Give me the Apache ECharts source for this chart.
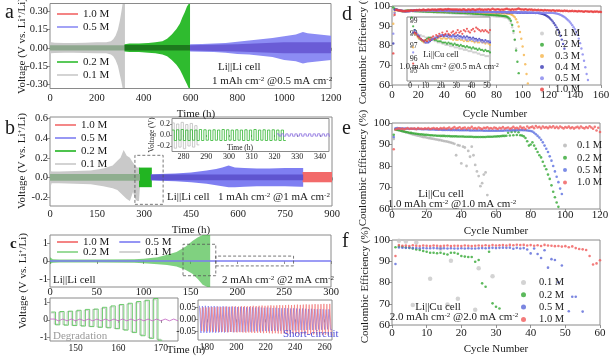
<!DOCTYPE html>
<html><head><meta charset="utf-8">
<script src="https://cdn.jsdelivr.net/npm/echarts@6/dist/echarts.min.js"></script>
<style>html,body{margin:0;padding:0;background:#fff}#c{width:614px;height:357px}</style>
</head><body><div id="c"></div>
<script>
const FONT = 'Liberation Serif';
const COL = {red:'#f26666', blue:'#7b7bf2', green:'#26b326', grey:'#c6c6c6'};

// ---------- panel a : voltage envelopes (h, V) ----------
const a_t_01 = [0,5,20,60,100,150,200,240,260,270,280,290,298,305,310,316,320];
const a_hi_01 = [0.06,0.045,0.042,0.04,0.04,0.042,0.045,0.045,0.055,0.07,0.1,0.15,0.22,0.3,0.36,0.36,0.36];
const a_lo_01 = [-0.06,-0.045,-0.042,-0.04,-0.04,-0.042,-0.045,-0.045,-0.055,-0.07,-0.1,-0.15,-0.22,-0.28,-0.33,-0.33,-0.33];
const a_t_mix = [0,320];
const a_hi_mix = [0.022,0.022];
const a_lo_mix = [-0.022,-0.022];
const a_t_02 = [318,340,380,420,450,480,500,520,540,555,565,575,585,592,598];
const a_hi_02 = [0.03,0.035,0.035,0.04,0.045,0.055,0.074,0.11,0.156,0.2,0.25,0.29,0.34,0.36,0.36];
const a_lo_02 = [-0.03,-0.035,-0.035,-0.04,-0.045,-0.055,-0.07,-0.1,-0.14,-0.18,-0.22,-0.26,-0.3,-0.33,-0.33];
const a_t_02in = [318,598];
const a_hi_02in = [0.024,0.024];
const a_lo_02in = [-0.022,-0.022];
const a_t_05 = [598,650,700,750,800,850,900,950,1000,1050,1080,1100,1150,1200];
const a_hi_05 = [0.03,0.032,0.035,0.04,0.05,0.06,0.07,0.08,0.095,0.11,0.13,0.12,0.11,0.1];
const a_lo_05 = [-0.03,-0.032,-0.035,-0.04,-0.05,-0.055,-0.065,-0.075,-0.1,-0.11,-0.13,-0.12,-0.11,-0.1];
const a_t_05in = [598,800,1000,1200];
const a_hi_05in = [0.022,0.03,0.045,0.045];
const a_lo_05in = [-0.022,-0.03,-0.045,-0.045];

// ---------- panel b ----------
const b_t_01 = [0,2,5,30,80,130,170,200,215,225,235,245,255,265,272,278,284,287];
const b_hi_01 = [0.1,0.07,0.06,0.06,0.065,0.07,0.09,0.12,0.17,0.2,0.28,0.22,0.2,0.15,0.12,0.1,0.1,0.1];
const b_lo_01 = [-0.27,-0.1,-0.06,-0.06,-0.065,-0.07,-0.09,-0.11,-0.13,-0.16,-0.19,-0.22,-0.24,-0.15,-0.22,-0.24,-0.24,-0.1];
const b_t_mix = [0,287];
const b_hi_mix = [0.035,0.035];
const b_lo_mix = [-0.035,-0.035];
const b_t_02 = [284,325];
const b_hi_02 = [0.1,0.1];
const b_lo_02 = [-0.1,-0.1];
const b_t_05 = [322,350,400,450,500,530,550,570,590,620,660,700,750,800,808];
const b_hi_05 = [0.03,0.035,0.04,0.05,0.07,0.085,0.1,0.12,0.1,0.095,0.09,0.09,0.095,0.095,0.095];
const b_lo_05 = [-0.03,-0.035,-0.04,-0.05,-0.065,-0.08,-0.09,-0.1,-0.1,-0.095,-0.09,-0.09,-0.09,-0.095,-0.095];
const b_t_05in = [322,808];
const b_hi_05in = [0.03,0.03];
const b_lo_05in = [-0.03,-0.03];
const b_t_10 = [806,900];
const b_hi_10 = [0.055,0.055];
const b_lo_10 = [-0.05,-0.05];
const b_box_t = [271,361];
const b_box_v = [-0.275,0.225];
// inset b : per-cycle amplitudes (2 h per cycle)
const bi_t0_grey = 275, bi_t0_green = 275, bi_t0_pur = 321;
const bi_grey_up = [0.22,0.2,0.23,0.19,0.21,0.17];
const bi_grey_dn = [-0.24,-0.22,-0.25,-0.2,-0.22,-0.18];
const bi_green_up = [0.09,0.095,0.1,0.09,0.095,0.09,0.1,0.095,0.09,0.095,0.09,0.1,0.095,0.09,0.095,0.09,0.095,0.09,0.1,0.09,0.095,0.09,0.095,0.09,0.09];
const bi_green_dn = [-0.1,-0.095,-0.1,-0.1,-0.095,-0.1,-0.1,-0.095,-0.1,-0.095,-0.1,-0.1,-0.095,-0.1,-0.095,-0.1,-0.1,-0.095,-0.1,-0.095,-0.1,-0.1,-0.095,-0.1,-0.1];
const bi_pur_up = [0.02,0.022,0.02,0.021,0.02,0.022,0.02,0.021,0.02,0.022,0.02,0.021];
const bi_pur_dn = [-0.02,-0.021,-0.02,-0.022,-0.02,-0.021,-0.02,-0.022,-0.02,-0.021,-0.02,-0.022];

// ---------- panel c ----------
const c_t_02 = [0,3,10,50,90,100,115,125,135,145,152,158,163,168,171];
const c_hi_02 = [0.2,0.1,0.08,0.08,0.1,0.12,0.2,0.35,0.5,0.8,1.1,1.3,1.43,1.43,1.43];
const c_lo_02 = [-0.15,-0.1,-0.08,-0.08,-0.1,-0.12,-0.18,-0.22,-0.3,-0.5,-0.7,-1.0,-1.3,-1.43,-1.43];
const c_t_05 = [0,300];
const c_hi_05 = [0.04,0.04];
const c_lo_05 = [-0.04,-0.04];
const c_box1_t = [142,177], c_box1_v = [-0.81,0.92];
const c_box2_t = [177,260], c_box2_v = [-0.27,0.27];
// left inset (degradation), 2 h cycles from 144 h
const cl_t0 = 144;
const cl_green_up = [0.45,0.48,0.5,0.55,0.6,0.62,0.72,0.8,0.88,0.95,1.05,1.12,1.22];
const cl_green_dn = [-0.28,-0.3,-0.32,-0.35,-0.38,-0.42,-0.45,-0.5,-0.58,-0.72,-0.9,-1.05,-1.15];
const cl_grey_up = [0.4,0.44,0.47,0.5,0.55,0.6,0.66,0.74,0.84,0.9,0.98,1.08,1.15];
const cl_grey_dn = [-0.24,-0.27,-0.3,-0.32,-0.36,-0.4,-0.42,-0.48,-0.55,-0.68,-0.85,-1.0,-1.1];
const cl_mag_amp = [0.05,0.05,0.05,0.05,0.05,0.05,0.05,0.05,0.05,0.05,0.05,0.05,0.05,0.05,0.05];
// right inset (short circuit), 2 h cycles from 175 h
const cr_t0_red = 175.5, cr_t0_blue = 175;
const cr_red_amp = [0.048,0.05,0.049,0.05,0.051,0.05,0.052,0.051,0.052,0.053,0.052,0.053,0.054,0.053,0.054,0.055,0.054,0.055,0.056,0.055,0.056,0.057,0.056,0.057,0.058,0.057,0.058,0.059,0.058,0.059,0.06,0.059,0.06,0.061,0.06,0.061,0.062,0.061,0.062,0.063,0.062,0.063,0.064,0.063,0.064];
const cr_blue_amp = [0.056,0.055,0.056,0.055,0.054,0.055,0.054,0.053,0.054,0.053,0.052,0.053,0.052,0.051,0.052,0.051,0.05,0.051,0.05,0.049,0.05,0.049,0.048,0.049,0.048,0.047,0.048,0.047,0.046,0.047,0.046,0.045,0.046,0.045,0.044,0.045,0.044,0.043,0.044,0.043,0.042,0.043,0.042,0.041,0.042];

// ---------- panel d : CE (%) per cycle, starting at cycle 1 ----------
const d_01 = [95.0,98.2,98.3,98.1,98.0,97.9,97.9,97.8,97.8,97.7, 97.7,97.6,97.6,97.5,97.5,97.4,97.4,97.3,97.3,97.3, 97.2,97.2,97.1,97.1,97.1,97.0,97.0,97.0,96.9,96.9, 96.9,96.8,96.8,96.8,96.7,96.7,96.7,96.6,96.6,96.6, 96.5,96.5,96.5,96.4,96.4,96.3,96.3,96.3,96.2,96.2, 96.2,96.1,96.1,96.0,96.0,95.9,95.9,95.8,95.8,95.7, 95.7,95.6,95.6,95.5,95.5,95.4,95.4,95.3,95.3,95.2, 95.2,95.1,95.1,95.0,95.0,94.9,94.9,94.8,94.8,94.7, 94.7,94.6,94.6,94.5,94.4,94.3,94.2,94.0, 93.5,92.7,91.3,89.2,86.3,82.8,78.5];
const d_02 = [99.3,98.6,98.3,98.0,97.8,97.6,97.5,97.4,97.4,97.5, 97.6,97.7,97.7,97.6,97.6,97.5,97.5,97.4,97.4,97.4, 97.3,97.3,97.3,97.2,97.3,97.2,97.2,97.1,97.2,97.1, 97.1,97.0,97.1,97.0,97.0,96.9,97.0,96.9,96.9,96.8, 96.9,96.8,96.8,96.7,96.8,96.7,96.7,96.6,96.7,96.6, 96.6,96.5,96.6,96.5,96.5,96.4,96.4,96.3,96.4,96.3, 96.3,96.2,96.2,96.1,96.1,96.0,96.0,95.9,95.9,95.8, 95.8,95.7,95.7,95.6,95.6,95.5,95.5,95.4,95.4,95.3, 95.3,95.2,95.2,95.1,95.0,94.9,94.8,94.6,94.2,93.6, 92.5,90.4,87.4,83.0,77.5,71.8,66.0];
const d_03 = [91.0,96.9,98.0,97.9,97.7,97.6,97.5,97.4,97.3,97.3, 97.4,97.5,97.5,97.6,97.6,97.6,97.7,97.6,97.7,97.6, 97.6,97.7,97.6,97.6,97.7,97.6,97.6,97.5,97.6,97.5, 97.5,97.6,97.5,97.5,97.4,97.5,97.4,97.4,97.5,97.4, 97.4,97.3,97.4,97.3,97.3,97.4,97.3,97.3,97.2,97.3, 97.2,97.1,97.2,97.1,97.0,97.1,97.0,97.0,96.9,97.0, 96.9,96.9,96.8,96.9,96.8,96.8,96.7,96.8,96.7,96.7, 96.6,96.7,96.6,96.6,96.5,96.5,96.6,96.5,96.4,96.5, 96.4,96.4,96.3,96.4,96.3,96.2,96.3,96.2,96.1,96.0, 95.8,95.5,95.0,94.3,93.3,91.8,89.6,86.8,83.4,79.5, 75.2,70.5,65.6,60.8];
const d_04 = [81.0,98.1,98.3,98.1,97.9,97.8,97.6,97.5,97.4,97.3, 97.3,97.3,97.4,97.5,97.6,97.6,97.7,97.7,97.8,97.8, 97.9,97.8,97.9,97.8,97.9,97.8,97.8,97.9,97.8,97.8, 97.9,97.8,97.8,97.7,97.8,97.7,97.8,97.7,97.7,97.6, 97.7,97.6,97.6,97.5,97.6,97.5,97.5,97.4,97.5,97.4, 97.4,97.3,97.4,97.3,97.3,97.2,97.3,97.2,97.2,97.1, 97.2,97.1,97.1,97.2,97.1,97.0,97.1,97.0,97.0,97.1, 97.0,96.9,97.0,96.9,97.0,96.9,96.9,97.0,96.9,96.8, 96.9,96.8,96.9,96.8,96.8,96.9,96.8,96.7,96.8,96.7, 96.8,96.7,96.7,96.8,96.7,96.6,96.7,96.6,96.7,96.6, 96.6,96.7,96.6,96.5,96.6,96.5,96.6,96.5,96.5,96.4, 96.5,96.4,96.3,96.2,96.0,95.8,95.5,95.2,94.8,94.3, 93.7,93.0,92.2,91.3,90.3,89.2,88.0,86.6,84.9,83.0, 80.8,78.4];
const d_05 = [86.0,96.5,98.2,98.0,97.9,97.7,97.6,97.5,97.4,97.3, 97.3,97.4,97.5,97.6,97.6,97.7,97.7,97.8,97.8,97.9, 97.8,97.9,97.8,97.9,97.7,97.8,97.7,97.8,97.7,97.6, 97.7,97.6,97.7,97.6,97.7,97.6,97.5,97.6,97.5,97.6, 97.5,97.4,97.5,97.4,97.5,97.4,97.3,97.4,97.3,97.4, 97.3,97.4,97.3,97.3,97.2,97.3,97.2,97.3,97.2,97.2, 97.1,97.2,97.1,97.2,97.1,97.1,97.0,97.1,97.0,97.1, 97.0,97.0,97.1,97.0,96.9,97.0,96.9,97.0,96.9,96.9, 96.9,97.0,96.9,96.9,96.8,96.9,96.8,96.9,96.8,96.8, 96.8,96.9,96.8,96.8,96.7,96.8,96.7,96.8,96.7,96.7, 96.7,96.8,96.7,96.7,96.6,96.7,96.6,96.7,96.6,96.6, 96.6,96.7,96.6,96.6,96.5,96.6,96.5,96.6,96.5,96.5, 96.6,96.5,96.5,96.4,96.3,96.2,96.0,95.8,95.5,95.2, 94.8,94.4,93.9,93.3,92.7,92.0,91.2,90.3,89.3,88.2, 86.9,85.4,83.5,81.2,78.5,75.5,72.3,69.0,65.6,62.5];
const d_10 = [76.0,95.6,98.1,98.0,97.8,97.7,97.6,97.5,97.4,97.5, 97.4,97.6,97.5,97.7,97.8,97.6,97.9,97.8,98.0,97.8, 98.1,97.9,98.0,98.2,98.0,97.9,98.1,98.2,98.0,98.1, 98.3,98.1,98.2,98.0,98.3,98.2,98.4,98.2,98.1,98.3, 98.4,98.2,98.5,98.4,98.3,98.2,98.3,98.2,98.3,98.2, 98.1,98.3,98.0,98.2,98.4,98.1,97.9,98.2,98.3,98.0, 98.2,98.4,98.1,98.0,98.3,98.2,98.5,98.1,98.2,98.0, 98.3,98.1,98.2,98.4,98.0,98.2,98.6,98.3,98.1,98.2, 98.4,98.2,98.0,98.3,98.1,98.2,98.5,98.6,98.3,98.2, 98.0,98.4,98.1,98.3,98.2,98.5,98.7,98.4,98.2,98.3, 98.1,98.4,98.2,98.0,98.3,98.1,98.2,97.9,98.1,98.0, 97.9,98.1,97.8,98.0,97.9,97.7,98.0,97.8,97.9,97.7, 97.8,97.6,97.9,97.7,97.5,97.8,97.6,97.7,97.5,97.6, 97.4,97.7,97.5,97.6,97.3,97.5,97.4,97.6,97.3,97.5, 97.4,97.2,97.5,97.3,97.4,97.2,97.1,97.4,97.3,97.2, 97.1,97.3,97.2,97.0,97.2,97.1,97.3,97.0,97.1,97.0];

// ---------- panel e ----------
const e_01 = [92.6,97.0,96.9,96.7,96.5,96.2,96.0,95.7,95.5,95.2, 95.0,94.7,94.5,94.3,94.1,93.9,93.7,93.5,93.4,93.2, 93.0,92.9,92.7,92.6,92.4,92.3,92.1,92.0,91.8,91.6, 91.5,91.3,91.1,90.9,90.6,90.3,85.0,89.7,89.5,81.2, 89.0,88.6,80.0,87.0,84.3,89.0,85.0,80.5,77.5,75.3, 70.6,72.0,76.0,77.0,66.5];
const e_02 = [94.5,97.0,96.8,96.6,96.4,96.2,96.0,95.8,95.7,95.5, 95.4,95.2,95.1,95.0,94.9,94.8,94.7,94.6,94.5,94.5, 94.4,94.3,94.3,94.2,94.2,94.1,94.1,94.0,94.0,94.0, 93.9,93.9,93.9,93.8,93.8,93.8,93.8,93.7,93.7,93.7, 93.7,93.6,93.6,93.6,93.6,93.6,93.5,93.5,93.5,93.5, 93.5,93.5,93.5,93.5,93.6,93.6,93.6,93.6,93.7,93.7, 93.8,93.8,93.9,94.0,94.0,94.1,95.5,94.2,95.8,94.3, 96.0,94.4,95.7,94.3,94.2,93.8,93.0, 91.5,89.5,90.0,91.0,89.5,88.0,86.5,85.0,84.0,82.0,80.0,78.5,76.0,74.0,71.0,68.0,65.5,63.0,61.0];
const e_05 = [93.5,97.5,97.6,97.5,97.5,97.4,97.4,97.4,97.3,97.3, 97.3,97.3,97.2,97.2,97.2,97.2,97.1,97.1,97.1,97.1, 97.0,97.0,97.0,97.0,96.9,96.9,96.9,96.9,96.8,96.8, 96.8,96.8,96.8,96.7,96.7,96.7,96.7,96.7,96.6,96.6, 96.6,96.6,96.6,96.6,96.5,96.5,96.5,96.5,96.5,96.5, 96.5,96.5,96.4,96.4,96.4,96.4,96.4,96.4,96.4,96.4, 96.4,96.4,96.4,96.4,96.5,96.5,96.5,96.5,96.6,96.6, 96.6,96.6,96.7,96.7,96.7,96.6,96.6,96.5,96.4, 96.3,96.0,95.5,94.8,94.0,93.2,92.2,91.0,89.5,88.0,86.5,84.5,82.5,80.0,77.5,75.0,72.5,69.5,67.0];
const e_10 = [87.8,97.0,97.3,97.5,97.2,97.4,97.1,97.3,97.6,97.2, 97.4,97.3,97.5,97.1,97.6,97.3,97.4,97.2,97.5,97.3, 97.6,97.2,97.4,97.7,97.3,97.5,97.1,97.6,97.4,97.8, 97.3,97.5,97.9,97.2,97.6,98.1,97.4,97.7,98.0,97.3, 97.6,97.9,97.2,97.8,97.5,98.2,97.4,97.7,97.3,97.9, 97.5,97.2,97.8,97.6,98.0,97.4,97.7,97.3,97.9,97.6, 97.2,97.8,97.5,98.1,97.4,97.7,97.9,97.3,97.6,98.2, 97.5,97.8,97.4,98.3,97.6,97.9,97.2,98.4,97.7,98.0, 98.3,97.6,98.6,97.9,98.2,97.5,98.4,97.8,98.1,97.6, 98.3,97.9,98.5,97.7,98.2,97.6,98.4,97.9,97.5,98.1, 97.8,98.3,97.6,98.0,97.4,97.9,98.2,97.6,98.4,97.8, 97.5,98.1,97.7,98.5,97.9,97.3,98.2,96.5,97.8,95.8];

// ---------- panel f ----------
const f_01_c = [2,4,6,7,11,14,16,17,19,24,25,29];
const f_01_v = [99.6,99.3,69.4,98.8,81.8,96.0,69.6,90.2,72.3,67.2,86.7,83.0];
const f_02 = [96.6,97.0,96.8,96.5,96.3,96.0,95.5,95.3,94.8,94.5, 94.0,94.0,93.8,94.0,93.5,93.2,94.0,94.0,93.5,92.5, 92.2,92.0,92.0,89.8,90.6,79.6,78.0,94.5,70.2,68.6,67.8];
const f_05 = [88.7,96.5,96.4,96.3,96.3,96.2,96.2,96.1,96.2,96.1, 96.1,96.2,96.1,96.0,96.1,96.0,96.1,96.0,96.0,96.1, 96.0,96.1,96.0,96.0,96.1,96.2,96.1,96.2,96.3,96.2, 96.3,96.4,96.3,96.4,95.9,96.3,96.0,96.2,95.5,93.7, 96.0,93.4,91.5,95.2,87.0,91.0,90.6,80.1,88.0,null, 66.5,73.3,73.3,null,66.3];
const f_10 = [92.5,97.6,97.3,97.4,97.2,97.5,97.3,97.2,97.4,97.3, 97.2,97.4,97.3,97.2,97.3,97.4,97.2,97.3,97.3,97.2, 97.4,97.3,97.2,97.3,97.4,97.3,97.5,97.3,97.6,97.4, 97.5,97.6,97.4,97.7,97.5,97.8,97.6,97.7,97.4,97.6, 97.3,97.5,97.2,97.7,97.4,97.3,97.1,97.2,96.9,97.1, 96.6,97.0,96.2,95.8,95.6,95.3,92.5,88.5,89.0,90.5];

// ---------- helpers ----------
const seq = (vals) => vals.map((v,i) => v == null ? null : [i+1, v]).filter(Boolean);
const pairs = (xs, ys) => xs.map((x,i) => [x, ys[i]]);
function sq(t0, period, up, dn) {
  const pts = [];
  up.forEach((u,i) => { const t = t0 + i*period; pts.push([t, u]); pts.push([t + period/2, dn[i]]); });
  pts.push([t0 + up.length*period, dn[dn.length-1]]);
  return pts;
}
function band(name, gi, t, hi, lo, color, z) {
  const rows = t.map((x,i) => [x, lo[i], hi[i]]);
  return {type:'custom', name, xAxisIndex:gi, yAxisIndex:gi, z: z||2, silent:true,
    data: rows, encode:{x:0, y:[1,2]}, itemStyle:{color},
    renderItem: function(params, api) {
      if (params.dataIndex !== 0) return null;
      const top = rows.map(r => api.coord([r[0], r[2]]));
      const bot = rows.map(r => api.coord([r[0], r[1]])).reverse();
      return {type:'polygon', shape:{points: top.concat(bot)}, style:{fill: color}};
    }};
}
function emptyLine(name, gi, color) {
  return {type:'line', name, xAxisIndex:gi, yAxisIndex:gi, data:[], itemStyle:{color}, lineStyle:{color}};
}
function stepLine(name, gi, pts, color, width, z) {
  return {type:'line', name, xAxisIndex:gi, yAxisIndex:gi, data:pts, step:'end', symbol:'none', showSymbol:false,
    lineStyle:{color, width: width||0.8}, itemStyle:{color}, z: z||2, silent:true, clip:true};
}
function box(gi, t, v) {
  const pts = [[t[0],v[0]],[t[1],v[0]],[t[1],v[1]],[t[0],v[1]],[t[0],v[0]]];
  return {type:'line', xAxisIndex:gi, yAxisIndex:gi, data:pts, symbol:'none', silent:true, z:4,
    lineStyle:{color:'#555', width:0.8, type:[3,2]}};
}
function sc(name, gi, data, color, size, z) {
  return {type:'scatter', name, xAxisIndex:gi, yAxisIndex:gi, data, symbolSize:size||2.4, symbol:'circle',
    itemStyle:{color}, clip:true, z: z||2, silent:true};
}
function xAx(gi, min, max, vals, o) {
  o = o || {};
  const lab = {customValues:vals, margin:(o.margin!=null?o.margin:4), fontFamily:FONT, fontSize:o.fs||10.5, color:'#1a1a1a',
      formatter:o.fmt||(v=>String(v)), hideOverlap:false};
  if (o.align) lab.align = o.align;
  return {type:'value', gridIndex:gi, min, max, z:o.z||0,
    axisLine:{show:false}, splitLine:{show:false},
    axisTick:{show:true, length:o.tick||3, inside:!!o.tin, customValues:vals, lineStyle:{color:'#777', width:0.8}},
    axisLabel:lab};
}
const yAx = xAx;
const f2 = v => v.toFixed(2), f1 = v => v.toFixed(1);

const grids = [
  {left:50, top:3.5, width:281, height:85},
  {left:50, top:117, width:282, height:89},
  {left:172, top:118.5, width:157, height:33, backgroundColor:'#fff', z:5},
  {left:50, top:235, width:281, height:52},
  {left:50, top:298, width:128, height:43},
  {left:198, top:300, width:134, height:40},
  {left:392, top:6, width:209, height:79},
  {left:407, top:17, width:83, height:64, backgroundColor:'#fff', z:5},
  {left:392, top:123, width:208, height:86},
  {left:392, top:240, width:208, height:85}
].map(g => Object.assign({show:true, borderColor:'#8a8a8a', borderWidth:1, containLabel:false}, g));

const xAxes = [
  xAx(0, 0, 1200, [0,200,400,600,800,1000,1200], {margin:4}),
  xAx(1, 0, 900, [0,150,300,450,600,750,900], {margin:3}),
  xAx(2, 275, 344, [280,290,300,310,320,330,340], {margin:1, fs:8, tick:2, z:7}),
  xAx(3, 0, 300, [0,50,100,150,200,250,300], {margin:0}),
  xAx(4, 144, 174, [150,160,170], {margin:2, fs:9.5}),
  xAx(5, 174, 265, [180,200,220,240,260], {margin:2, fs:9.5}),
  xAx(6, 0, 160, [0,20,40,60,80,100,120,140,160], {margin:5, fs:11}),
  xAx(7, -2, 52, [0,10,20,30,40,50], {margin:1, fs:7.5, tick:2, z:7}),
  xAx(8, 0, 120, [0,20,40,60,80,100,120], {margin:1, fs:11}),
  xAx(9, 0, 60, [0,10,20,30,40,50,60], {margin:3, fs:11})
];
const yAxes = [
  yAx(0, -0.335, 0.365, [-0.3,-0.15,0,0.15,0.3], {fmt:f2, margin:2}),
  yAx(1, -0.292, 0.616, [-0.2,0,0.2,0.4,0.6], {fmt:f1, margin:2}),
  yAx(2, -0.3, 0.3, [-0.2,0,0.2], {fmt:f1, margin:2, fs:8, tick:2, z:7}),
  yAx(3, -1.43, 1.43, [-1,0,1], {margin:2}),
  yAx(4, -1.2, 1.25, [-1,0,1], {margin:2, fs:9.5}),
  yAx(5, -0.085, 0.08, [-0.05,0,0.05], {fmt:f2, margin:2, fs:9.5}),
  yAx(6, 60, 100, [60,70,80,90,100], {margin:2, fs:11}),
  yAx(7, 94.2, 99.35, [95,96,97,98,99], {margin:-3, align:'left', fs:7.5, tick:2, tin:true, z:7}),
  yAx(8, 60, 100, [60,70,80,90,100], {margin:2, fs:11}),
  yAx(9, 60, 100, [60,70,80,90,100], {margin:2, fs:11})
];

const D = {grey:'#c8c8c8', green:'#2ea52e', orange:'#f5b44a', dblue:'#3a3ab4', lblue:'#8383ee', red:'#e83a3a'};
const E = {grey:'#b4b4b4', green:'#33a833', blue:'#5b6fe0', red:'#f05a5a'};

const series = [
  // a
  emptyLine('a:1.0 M', 0, COL.red),
  band('a:0.1 M', 0, a_t_01, a_hi_01, a_lo_01, '#c9c9c9'),
  band('a:mix', 0, a_t_mix, a_hi_mix, a_lo_mix, '#8fa88f', 3),
  band('a:0.2 M', 0, a_t_02, a_hi_02, a_lo_02, '#2fbb2f'),
  band('a:g in', 0, a_t_02in, a_hi_02in, a_lo_02in, '#1d7a1d', 3),
  band('a:0.5 M', 0, a_t_05, a_hi_05, a_lo_05, '#8c8cf4'),
  band('a:p in', 0, a_t_05in, a_hi_05in, a_lo_05in, '#6a5cd6', 3),
  // b
  band('b:0.1 M', 1, b_t_01, b_hi_01, b_lo_01, '#c9c9c9'),
  band('b:mix', 1, b_t_mix, b_hi_mix, b_lo_mix, '#8fae8f', 3),
  band('b:0.2 M', 1, b_t_02, b_hi_02, b_lo_02, '#22b522'),
  band('b:0.5 M', 1, b_t_05, b_hi_05, b_lo_05, '#7f7ff2'),
  band('b:p in', 1, b_t_05in, b_hi_05in, b_lo_05in, '#5f55d0', 3),
  band('b:1.0 M', 1, b_t_10, b_hi_10, b_lo_10, '#f26a6a'),
  box(1, b_box_t, b_box_v),
  // b inset
  stepLine('bi:grey', 2, sq(bi_t0_grey, 2, bi_grey_up, bi_grey_dn), '#bdbdbd', 0.8, 8),
  stepLine('bi:green', 2, sq(bi_t0_green, 2, bi_green_up, bi_green_dn), '#2fb52f', 0.8, 9),
  stepLine('bi:pur', 2, sq(bi_t0_pur, 2, bi_pur_up, bi_pur_dn), '#8a6fe0', 0.8, 9),
  // c
  band('c:0.2 M', 3, c_t_02, c_hi_02, c_lo_02, 'rgba(60,185,60,0.65)'),
  band('c:0.5 M', 3, c_t_05, c_hi_05, c_lo_05, '#7b7bf2', 3),
  emptyLine('c:1.0 M', 3, COL.red),
  emptyLine('c:0.1 M', 3, '#c8c8c8'),
  box(3, c_box1_t, c_box1_v),
  box(3, c_box2_t, c_box2_v),
  // c insets
  stepLine('cl:grey', 4, sq(cl_t0, 2, cl_grey_up, cl_grey_dn), '#bfbfbf', 0.8),
  stepLine('cl:green', 4, sq(cl_t0+0.3, 2, cl_green_up, cl_green_dn), '#4cc04c', 0.8, 3),
  stepLine('cl:mag', 4, sq(cl_t0, 2, cl_mag_amp, cl_mag_amp.map(v=>-v)), '#c060c0', 0.8, 4),
  stepLine('cr:blue', 5, sq(cr_t0_blue, 2, cr_blue_amp, cr_blue_amp.map(v=>-v)), '#7070f0', 0.7),
  stepLine('cr:red', 5, sq(cr_t0_red, 2, cr_red_amp, cr_red_amp.map(v=>-v)), '#f27a7a', 0.7, 3),
  // d
  sc('d:0.1 M', 6, seq(d_01), D.grey),
  sc('d:0.2 M', 6, seq(d_02), D.green),
  sc('d:0.3 M', 6, seq(d_03), D.orange),
  sc('d:0.4 M', 6, seq(d_04), D.dblue),
  sc('d:0.5 M', 6, seq(d_05), D.lblue),
  sc('d:1.0 M', 6, seq(d_10), D.red),
  // d inset
  sc('di:0.1', 7, seq(d_01).filter(p=>p[0]<=52), D.grey, 2.2, 8),
  sc('di:0.2', 7, seq(d_02).filter(p=>p[0]<=52), D.green, 2.2, 8),
  sc('di:0.3', 7, seq(d_03).filter(p=>p[0]<=52), D.orange, 2.2, 8),
  sc('di:0.4', 7, seq(d_04).filter(p=>p[0]<=52), D.dblue, 2.2, 8),
  sc('di:0.5', 7, seq(d_05).filter(p=>p[0]<=52), D.lblue, 2.2, 8),
  sc('di:1.0', 7, seq(d_10).filter(p=>p[0]<=52), D.red, 2.2, 8),
  // e
  sc('e:0.1 M', 8, seq(e_01), E.grey, 2.8),
  sc('e:0.2 M', 8, seq(e_02), E.green, 2.6),
  sc('e:0.5 M', 8, seq(e_05), E.blue, 2.6),
  sc('e:1.0 M', 8, seq(e_10), E.red, 2.6),
  // f
  sc('f:0.1 M', 9, pairs(f_01_c, f_01_v), '#c8c8c8', 4.5),
  sc('f:0.2 M', 9, seq(f_02), E.green, 2.6),
  sc('f:0.5 M', 9, seq(f_05), '#5a68d8', 2.6),
  sc('f:1.0 M', 9, seq(f_10), E.red, 2.6)
];

const lfmt = n => n.split(':')[1];
const ltxt = {fontFamily:FONT, fontSize:11, color:'#1a1a1a', lineHeight:12};
function lineLegend(left, top, names, orient, gap) {
  return {left, top, orient: orient||'vertical', data:names, icon:'rect', itemWidth:21, itemHeight:1.6,
    itemGap: gap!=null?gap:1, selectedMode:false, formatter:lfmt, textStyle:ltxt, padding:0};
}
function dotLegend(left, top, names, gap, pad, w) {
  return {left, top, orient:'vertical', data:names, icon:'circle', itemWidth:w||4, itemHeight:w||4,
    itemGap:gap, selectedMode:false, formatter:lfmt, padding:0,
    textStyle:{fontFamily:FONT, fontSize:10.5, color:'#1a1a1a', lineHeight:10, padding:[0,0,0,pad]}};
}
const legends = [
  lineLegend(57, 8, ['a:1.0 M','a:0.5 M']),
  lineLegend(57, 56, ['a:0.2 M','a:0.1 M']),
  lineLegend(55, 119, ['b:1.0 M','b:0.5 M','b:0.2 M','b:0.1 M']),
  lineLegend(57, 236, ['c:1.0 M','c:0.5 M'], 'horizontal', 10),
  lineLegend(57, 246, ['c:0.2 M','c:0.1 M'], 'horizontal', 10),
  dotLegend(540, 28, ['d:0.1 M','d:0.2 M','d:0.3 M','d:0.4 M','d:0.5 M','d:1.0 M'], 0.2, 6),
  dotLegend(563, 140, ['e:0.1 M','e:0.2 M','e:0.5 M','e:1.0 M'], 1.3, 5),
  dotLegend(521, 277, ['f:0.1 M','f:0.2 M','f:0.5 M','f:1.0 M'], 1.3, 8, 5)
];

// ---------- text annotations ----------
const RICH = {
  n:{fontFamily:FONT, fontSize:11, fill:'#1a1a1a'},
  s:{fontFamily:FONT, fontSize:7, fill:'#1a1a1a', verticalAlign:'top'},
  m:{fontFamily:FONT, fontSize:8.5, fill:'#1a1a1a'},
  ms:{fontFamily:FONT, fontSize:5.5, fill:'#1a1a1a', verticalAlign:'top'}
};
function T(x, y, text, o) {
  o = o || {};
  return {type:'text', x, y, rotation:o.rot||0, silent:true, z:100,
    style:{text, rich:RICH, fontFamily:FONT, fontSize:o.fs||11, fontWeight:o.fw||'normal', fill:o.color||'#1a1a1a',
      align:o.align||'left', verticalAlign:'middle', textAlign:o.align||'left', textVerticalAlign:'middle'}};
}
const VOLT = '{n|Voltage (V vs. Li}{s|+}{n|/Li)}';
const CE = '{n|Coulombic Efficiency (%)}';
const graphics = [
  T(5, 13, 'a', {fs:20}), T(5, 129, 'b', {fs:20}), T(10, 244, 'c', {fs:15, fw:'bold'}),
  T(342, 15, 'd', {fs:20}), T(342, 129, 'e', {fs:20}), T(342, 242, 'f', {fs:20}),
  T(22, 46, VOLT, {rot:Math.PI/2, align:'center'}),
  T(22, 161, VOLT, {rot:Math.PI/2, align:'center'}),
  T(23, 281, VOLT, {rot:Math.PI/2, align:'center'}),
  T(363, 46, CE, {rot:Math.PI/2, align:'center'}),
  T(363, 168, CE, {rot:Math.PI/2, align:'center'}),
  T(365, 285, CE, {rot:Math.PI/2, align:'center'}),
  T(196, 114, 'Time (h)', {align:'center'}),
  T(191, 230, 'Time (h)', {align:'center'}),
  T(186, 350, 'Time (h)', {align:'center'}),
  T(495, 114, 'Cycle Number', {align:'center'}),
  T(496, 231, 'Cycle Number', {align:'center'}),
  T(496, 349, 'Cycle Number', {align:'center'}),
  T(218, 67, 'Li||Li cell'),
  T(212, 81, '{n|1 mAh cm}{s|-2}{n| @0.5 mA cm}{s|-2}'),
  T(167, 197, 'Li||Li cell'),
  T(218, 197, '{n|1 mAh cm}{s|-2}{n| @1 mA cm}{s|-2}'),
  T(152, 135, 'Voltage (V)', {rot:Math.PI/2, align:'center', fs:7.5}),
  T(240, 148, 'Time (h)', {align:'center', fs:7.5}),
  T(53, 280, 'Li||Li cell'),
  T(222, 280, '{n|2 mAh cm}{s|-2}{n| @2 mA cm}{s|-2}'),
  T(53, 336, 'Degradation', {color:'#9a9a9a'}),
  T(283, 334, 'Short-circuit', {color:'#4f4fd8'}),
  T(441, 55, '{m|Li||Cu cell}', {align:'center'}),
  T(449, 67, '{m|1.0 mAh cm}{ms|-2}{m| @0.5 mA cm}{ms|-2}', {align:'center'}),
  T(441, 194, 'Li||Cu cell', {align:'center'}),
  T(452, 204, '{n|1.0 mAh cm}{s|-2}{n| @1.0 mA cm}{s|-2}', {align:'center'}),
  T(438, 307, 'Li||Cu cell', {align:'center'}),
  T(454, 317, '{n|2.0 mAh cm}{s|-2}{n| @2.0 mA cm}{s|-2}', {align:'center'})
];

const chart = echarts.init(document.getElementById('c'), null, {renderer:'canvas'});
chart.setOption({
  animation:false, backgroundColor:'#fff',
  grid:grids, xAxis:xAxes, yAxis:yAxes, series, legend:legends, graphic:graphics
});
</script></body></html>
